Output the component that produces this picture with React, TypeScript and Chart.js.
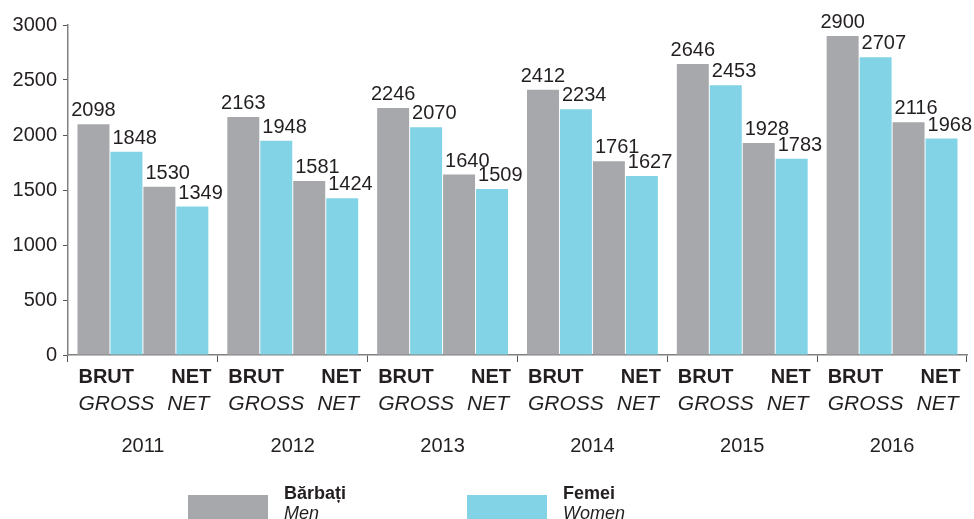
import React, { useEffect, useRef } from "react";
import { Chart, registerables } from "chart.js";

Chart.register(...registerables);

const years = ["2011", "2012", "2013", "2014", "2015", "2016"];
const menGross = [2098, 2163, 2246, 2412, 2646, 2900];
const womenGross = [1848, 1948, 2070, 2234, 2453, 2707];
const menNet = [1530, 1581, 1640, 1761, 1928, 2116];
const womenNet = [1349, 1424, 1509, 1627, 1783, 1968];
const grossLabel = ["BRUT", "GROSS"];
const netLabel = ["NET", "NET"];
const legendItems = [
  { ro: "Bărbați", en: "Men" },
  { ro: "Femei", en: "Women" },
];
const yTicks = [0, 500, 1000, 1500, 2000, 2500, 3000];

const GRAY = "#a7a8ab";
const CYAN = "#81d3e5";
const TEXT = "#231f20";
const FONT = "'Liberation Sans', Arial, Helvetica, sans-serif";

const labelsPlugin = {
  id: "customLabels",
  afterDatasetsDraw(chart: any) {
    const ctx = chart.ctx;
    const xScale = chart.scales.x;
    ctx.save();
    ctx.fillStyle = TEXT;
    // value labels
    chart.data.datasets.forEach((ds: any, di: number) => {
      const meta = chart.getDatasetMeta(di);
      meta.data.forEach((bar: any, i: number) => {
        const v = ds.data[i];
        ctx.font = `20px ${FONT}`;
        ctx.textBaseline = "alphabetic";
        if (di === 0) {
          ctx.textAlign = "center";
          ctx.fillText(String(v), bar.x, bar.y - 8);
        } else {
          ctx.textAlign = "left";
          ctx.fillText(String(v), bar.x - bar.width / 2 + 2, bar.y - 8);
        }
      });
    });
    // x labels
    const m0 = chart.getDatasetMeta(0);
    const m3 = chart.getDatasetMeta(3);
    years.forEach((yr, i) => {
      const b0 = m0.data[i];
      const b3 = m3.data[i];
      const left = b0.x - b0.width / 2;
      const right = b3.x + b3.width / 2;
      ctx.textAlign = "left";
      ctx.font = `bold 20px ${FONT}`;
      ctx.fillText(grossLabel[0], left + 1, 383);
      ctx.font = `italic 21px ${FONT}`;
      ctx.fillText(grossLabel[1], left + 1, 410);
      ctx.textAlign = "right";
      ctx.font = `bold 20px ${FONT}`;
      ctx.fillText(netLabel[0], right + 3, 383);
      ctx.font = `italic 21px ${FONT}`;
      ctx.fillText(netLabel[1], right + 1, 410);
      ctx.textAlign = "center";
      ctx.font = `20px ${FONT}`;
      ctx.fillText(yr, xScale.getPixelForValue(i), 452);
    });
    // legend
    const legendX = [188, 467];
    const colors = [GRAY, CYAN];
    legendItems.forEach((it, i) => {
      ctx.fillStyle = colors[i];
      ctx.fillRect(legendX[i], 495, 80, 26);
      ctx.fillStyle = TEXT;
      ctx.textAlign = "left";
      ctx.font = `bold 18px ${FONT}`;
      ctx.fillText(it.ro, legendX[i] + 96, 499);
      ctx.font = `italic 18px ${FONT}`;
      ctx.fillText(it.en, legendX[i] + 96, 519);
    });
    ctx.restore();
  },
};

export default function App() {
  const ref = useRef<HTMLCanvasElement>(null);
  useEffect(() => {
    document.body.style.margin = "0";
    const chart = new Chart(ref.current!, {
      type: "bar",
      data: {
        labels: years,
        datasets: [
          { label: "Men gross", data: menGross, backgroundColor: GRAY },
          { label: "Women gross", data: womenGross, backgroundColor: CYAN },
          { label: "Men net", data: menNet, backgroundColor: GRAY },
          { label: "Women net", data: womenNet, backgroundColor: CYAN },
        ],
      },
      options: {
        responsive: false,
        animation: false,
        devicePixelRatio: 1,
        datasets: { bar: { categoryPercentage: 0.88, barPercentage: 0.97 } },
        layout: { padding: { top: 25, right: 7, bottom: 0, left: 0 } },
        plugins: { legend: { display: false }, tooltip: { enabled: false }, title: { display: false } },
        scales: {
          x: {
            ticks: { display: false },
            grid: { drawOnChartArea: false, drawTicks: true, tickLength: 7, color: "#555", lineWidth: 1 },
            border: { display: true, color: "#808080", width: 1.5 },
            afterFit: (s: any) => { s.height = 164; },
          },
          y: {
            min: 0,
            max: 3000,
            afterBuildTicks: (s: any) => { s.ticks = yTicks.map((v) => ({ value: v })); },
            ticks: {
              font: { family: FONT, size: 20 },
              color: TEXT,
              padding: 6,
              callback: (v: any) => String(v),
            },
            grid: { drawOnChartArea: false, drawTicks: true, tickLength: 5, color: "#555" },
            border: { display: true, color: "#808080", width: 1.5 },
            afterFit: (s: any) => { s.width = 68; },
          },
        },
      },
      plugins: [labelsPlugin],
    });
    return () => chart.destroy();
  }, []);
  return (
    <div style={{ width: 974, height: 519, background: "#fff" }}>
      <canvas ref={ref} width={974} height={519} style={{ display: "block" }} />
    </div>
  );
}
